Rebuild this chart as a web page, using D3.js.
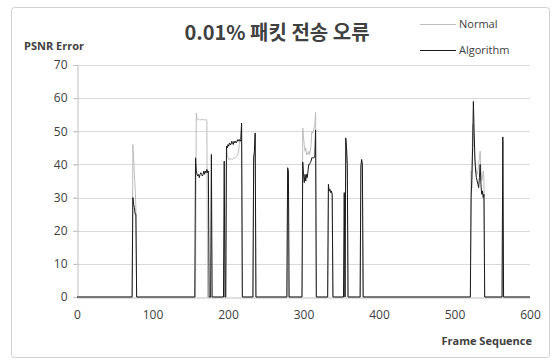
<!DOCTYPE html>
<html><head><meta charset="utf-8">
<script src="https://cdn.jsdelivr.net/npm/d3@7"></script>
<style>
html,body{margin:0;padding:0;background:#fff;}
svg{display:block;}
text{font-family:"Open Sans","Noto Sans CJK KR",sans-serif;fill:#404040;}
</style></head>
<body>
<script>
const titleText = "0.01% 패킷 전송 오류";
const yAxisTitle = "PSNR Error";
const xAxisTitle = "Frame Sequence";
const seriesNames = ["Normal", "Algorithm"];
const xTicks = [0, 100, 200, 300, 400, 500, 600];
const yTicks = [0, 10, 20, 30, 40, 50, 60, 70];

const normalFrames = [0,73,74,75,76,77,78,79,
 157,158,159,160,161,162,163,164,165,166,167,168,169,170,171,172,173,
 197,198,199,200,201,202,203,204,205,206,207,208,209,210,211,212,213,214,215,216,217,218,219,
 233,234,235,236,237,
 278,279,280,
 298,299,300,301,302,303,304,305,306,307,308,309,310,311,312,313,314,315,316,317,
 332,333,334,335,336,337,338,339,
 353,354,355,356,357,358,359,
 375,376,377,378,379,
 521,522,523,524,525,526,527,528,529,530,531,532,533,534,535,536,537,538,539,540,
 563,564,565,600];
const normalValues = [0,0,46,42,37,33,27,0,
 0,55.5,53.5,53.5,53.7,53.5,53.4,53.5,53.5,53.6,53.5,53.5,53.4,53.5,53.5,53.3,0,
 0,45.5,43,42,41.5,41.8,41.5,41.6,41.7,41.5,41.8,42,41.8,42,42.3,42.5,43,44,46,47,47.5,52,0,
 0,40,44,49,0,
 0,38,0,
 0,51,48,46,44,45,43,43.5,43,44,43,44,46,50,49.5,50,51,52,55.8,0,
 0,33,32,32,31.5,31.5,31,0,
 0,31,0,47,44,38,0,
 0,39,41,40,0,
 0,38,33,52,50,45,41,39,38,37,38,40,42,44,38,35,36,38,36,0,
 0,47,0,0];

const algoFrames = [0,73,74,75,76,77,78,79,
 156,157,158,159,160,161,162,163,164,165,166,167,168,169,170,171,172,173,174,175,177,178,179,
 194,195,196,197,198,199,200,201,202,203,204,205,206,207,208,209,210,211,212,213,214,215,216,217,218,219,
 233,234,235,236,237,
 278,279,280,281,
 298,299,300,301,302,303,304,305,306,307,308,309,310,311,312,313,314,315,316,317,
 332,333,334,335,336,337,338,339,
 353,354,355,356,357,358,359,
 375,376,377,378,379,
 521,522,523,524,525,526,527,528,529,530,531,532,533,534,535,536,537,538,539,540,
 563,564,565,600];
const algoValues = [0,0,30,28,27,25,25,0,
 0,42,38,37,36.5,37,36,37,37.5,37,36.5,37,38,37,38,37.5,38.5,37.5,38,0,0,43,0,
 0,41,0,0,45.5,45,46,45.5,46.5,46,46,47,46.5,46,47,46.5,47,46.5,47,47.5,47,47.5,47,47.5,52.5,0,
 0,42,44,49.5,0,
 0,39,38,0,
 0,40.7,37,34.5,37,35,37,36,38,40,40,40.5,41,42,42,42,42,42.5,50.4,0,
 0,34,32,32.5,31.5,32,31,0,
 0,31.5,0,48,45,40,0,
 0,39.5,41.5,40,0,
 0,30,36,45,59,50,42,38,36,35,34,33,36,40,34,31,32,30,31,0,
 0,48.3,0,0];

const W = 556, H = 362;
const svg = d3.select("body").append("svg").attr("width", W).attr("height", H);

// chart border
svg.append("rect").attr("x", 11.5).attr("y", 7.5).attr("width", 538).attr("height", 350)
  .attr("rx", 3).attr("fill", "#fff").attr("stroke", "#d0d0d0").attr("stroke-width", 1);

const x = d3.scaleLinear().domain([0, 600]).range([77, 530]);
const y = d3.scaleLinear().domain([0, 70]).range([297, 65]);

// gridlines
svg.append("g").selectAll("line").data(yTicks.filter(d => d > 0)).join("line")
  .attr("x1", 73).attr("x2", 530)
  .attr("y1", d => Math.round(y(d)) + 0.5).attr("y2", d => Math.round(y(d)) + 0.5)
  .attr("stroke", "#d9d9d9").attr("stroke-width", 1);

// y axis
const yAxis = d3.axisLeft(y).tickValues(yTicks).tickSize(4).tickPadding(6).tickFormat(d3.format("d"));
const gy = svg.append("g").attr("transform", "translate(77.5,0)").call(yAxis);
gy.select(".domain").attr("stroke", "#bfbfbf");
gy.selectAll(".tick line").attr("stroke", "#bfbfbf");
gy.selectAll(".tick text").style("font-size", "12px").attr("fill", "#404040");

// x axis
const xAxis = d3.axisBottom(x).tickValues(xTicks).tickSize(0).tickPadding(13);
const gx = svg.append("g").attr("transform", "translate(0,297.5)").call(xAxis);
gx.select(".domain").attr("stroke", "#bfbfbf");
gx.selectAll(".tick text").style("font-size", "12px").attr("fill", "#404040");

const line = d3.line().x(d => x(d[0])).y(d => y(d[1]));
const normalData = normalFrames.map((f, i) => [f, normalValues[i]]);
const algoData = algoFrames.map((f, i) => [f, algoValues[i]]);

svg.append("path").datum(normalData).attr("d", line)
  .attr("fill", "none").attr("stroke", "#bdbdbd").attr("stroke-width", 1);
svg.append("path").datum(algoData).attr("d", line)
  .attr("fill", "none").attr("stroke", "#1a1a1a").attr("stroke-width", 1);

// titles
svg.append("text").attr("x", 277).attr("y", 40).attr("text-anchor", "middle")
  .style("font-family", '"Noto Sans CJK KR",sans-serif')
  .style("font-size", "20px").style("font-weight", "bold").attr("fill", "#000").text(titleText);
svg.append("text").attr("x", 24).attr("y", 50)
  .style("font-size", "11px").style("font-weight", "bold").attr("fill", "#000").text(yAxisTitle);
svg.append("text").attr("x", 532).attr("y", 345).attr("text-anchor", "end")
  .style("font-size", "11px").style("font-weight", "bold").attr("fill", "#000").text(xAxisTitle);

// legend
const legY = [24, 50];
const legColors = ["#bdbdbd", "#1a1a1a"];
seriesNames.forEach((n, i) => {
  svg.append("line").attr("x1", 420).attr("x2", 456)
    .attr("y1", legY[i] + 0.5).attr("y2", legY[i] + 0.5)
    .attr("stroke", legColors[i]).attr("stroke-width", 1);
  svg.append("text").attr("x", 459).attr("y", legY[i] + 4)
    .style("font-size", "11px").attr("fill", "#404040").text(n);
});
</script>
</body></html>
